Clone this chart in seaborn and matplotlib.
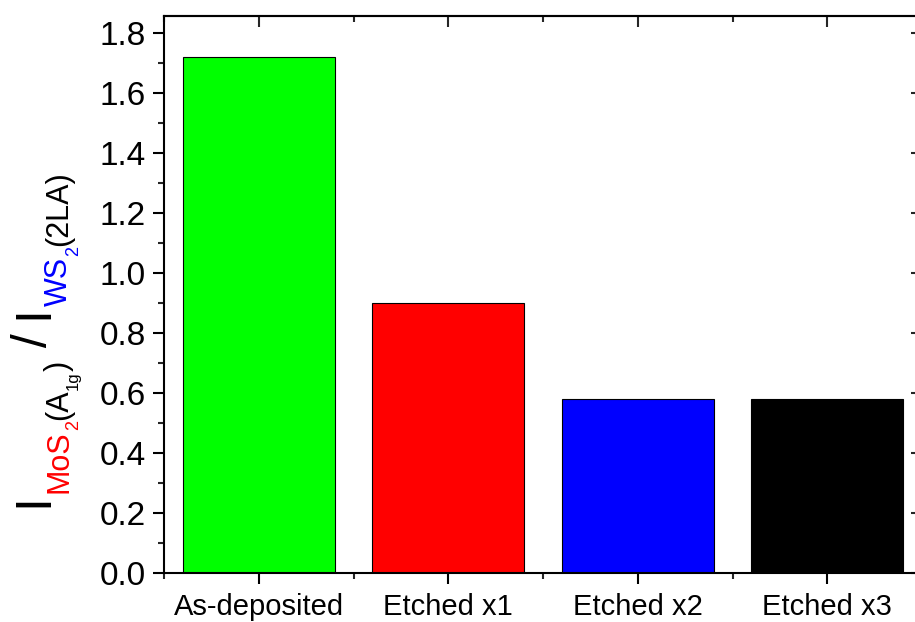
import matplotlib
matplotlib.use("Agg")
import matplotlib.pyplot as plt
import seaborn as sns
import numpy as np
from matplotlib.ticker import FixedLocator, MultipleLocator

categories = ["As-deposited", "Etched x1", "Etched x2", "Etched x3"]
values = [1.72, 0.90, 0.58, 0.58]
colors = ["#00FF00", "#FF0000", "#0000FF", "#000000"]
yticks = [0.0, 0.2, 0.4, 0.6, 0.8, 1.0, 1.2, 1.4, 1.6, 1.8]

sns.set_style("ticks")
plt.rcParams['font.family'] = ['Liberation Sans', 'DejaVu Sans']

W, H = 915, 622
fig = plt.figure(figsize=(W / 100, H / 100), dpi=100)
left, right, top, bottom = 164, 922, 15.7, 573.3
ax = fig.add_axes([left / W, (H - bottom) / H, (right - left) / W, (bottom - top) / H])

sns.barplot(x=categories, y=values, hue=categories, palette=colors, legend=False,
            width=0.8, edgecolor="black", linewidth=0.8, saturation=1, ax=ax)

ax.set_xlim(-0.5, 3.5)
ax.set_ylim(0, 1.858)
ax.set_yticks(yticks)
ax.set_yticklabels([f"{v:.1f}" for v in yticks])
ax.yaxis.set_minor_locator(MultipleLocator(0.1))
ax.xaxis.set_minor_locator(FixedLocator([-0.5, 0.5, 1.5, 2.5, 3.5]))
ax.set_xlabel("")
ax.set_ylabel("")

for name, s in ax.spines.items():
    s.set_visible(name in ("left", "bottom", "top"))
    s.set_linewidth(1.5)
    s.set_color("black")

ax.tick_params(axis="y", which="major", direction="out", length=8, width=1.5, labelsize=24, pad=5, colors="black")
ax.tick_params(axis="y", which="minor", direction="out", length=4, width=1.5)
ax.tick_params(axis="x", which="major", direction="out", length=8, width=1.5, labelsize=21, pad=6, colors="black")
ax.tick_params(axis="x", which="minor", direction="out", length=4, width=1.5)

sx = ax.secondary_xaxis("top")
sx.set_xticks(range(len(categories)))
sx.xaxis.set_minor_locator(FixedLocator([-0.5, 0.5, 1.5, 2.5, 3.5]))
sx.tick_params(which="major", direction="in", length=8, width=1.5, labeltop=False)
sx.tick_params(which="minor", direction="in", length=4, width=1.5)
sx.spines["top"].set_linewidth(1.5)

sy = ax.secondary_yaxis("right")
sy.set_yticks(yticks)
sy.yaxis.set_minor_locator(MultipleLocator(0.1))
sy.tick_params(which="major", direction="in", length=8, width=1.5, labelright=False)
sy.tick_params(which="minor", direction="in", length=4, width=1.5)
sy.spines["right"].set_visible(False)

# composite multi-colour y label
fig.canvas.draw()
r = fig.canvas.get_renderer()
pieces = [("I", 36, "black", 47), ("MoS", 22, "red", 67), ("2", 13, "red", 78),
          ("(A", 22, "black", 67), ("1g", 12, "black", 78), (")", 22, "black", 67),
          (" / ", 36, "black", 47), ("I", 36, "black", 47), ("WS", 22, "blue", 67),
          ("2", 13, "blue", 78), ("(2LA)", 22, "black", 67)]
ypos = H - 507
for txt, size, col, xb in pieces:
    t = fig.text(xb / W, ypos / H, txt, rotation=90, rotation_mode="anchor",
                 ha="left", va="baseline", fontsize=size, color=col)
    ext = t.get_window_extent(r)
    ypos += ext.height

fig.savefig("out.png", dpi=100)
